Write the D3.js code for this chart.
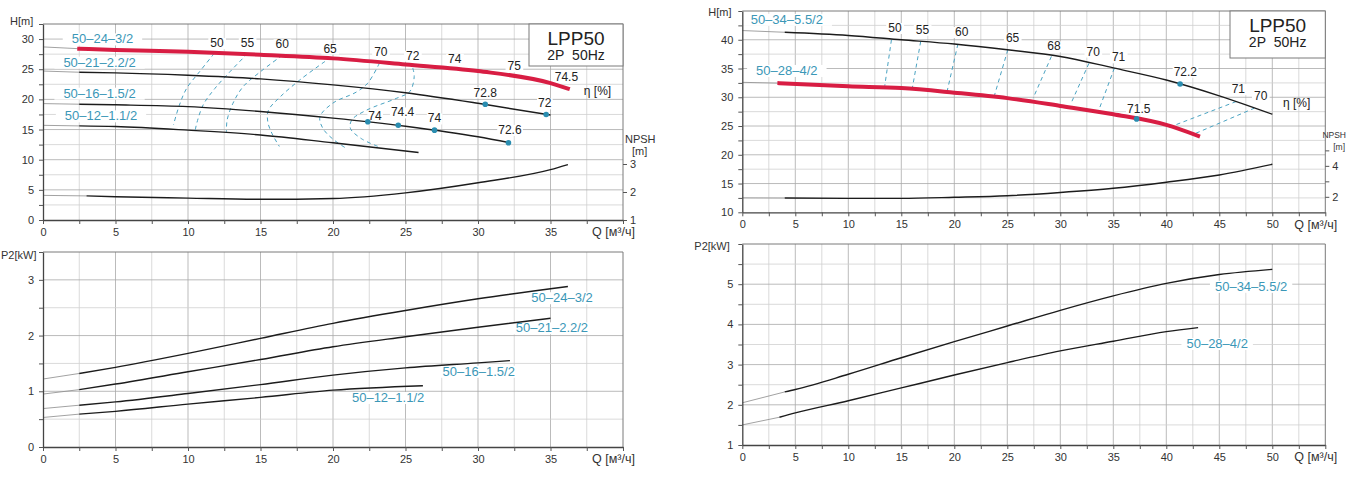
<!DOCTYPE html>
<html>
<head>
<meta charset="utf-8">
<script src="https://cdn.jsdelivr.net/npm/d3@7"></script>
<style>
    body { margin: 0; background: #fff; }
    svg { display: block; font-family: "Liberation Sans", Arial, sans-serif; }
</style>
</head>
<body>
<svg id="chart" width="1347" height="483"></svg>
<script>
// ---------- left pump family (Q m3/h) ----------
const leftModels = ['50–24–3/2', '50–21–2.2/2', '50–16–1.5/2', '50–12–1.1/2'];

// head curves H[m]
const leftHeadQ24 = [2.5, 5, 10, 15, 20, 25, 30, 35, 36.2];
const leftHead24  = [28.4, 28.2, 27.9, 27.4, 26.8, 25.8, 24.7, 22.7, 21.8];
const leftHeadQ21 = [2.5, 5, 10, 15, 20, 25, 30, 35];
const leftHead21  = [24.5, 24.4, 24.0, 23.4, 22.4, 21.1, 19.35, 17.4];
const leftHeadQ16 = [2.5, 5, 10, 15, 20, 25, 30, 32.2];
const leftHead16  = [19.2, 19.1, 18.8, 18.0, 16.9, 15.55, 13.8, 12.8];
const leftHeadQ12 = [2.5, 5, 10, 15, 20, 25.9];
const leftHead12  = [15.6, 15.5, 14.9, 14.1, 12.8, 11.2];
const leftHeadAtZero = [28.7, 24.7, 19.3, 15.7];

// NPSH [m]
const leftNpshQ = [3, 5, 10, 15, 20, 25, 30, 35, 36.2];
const leftNpsh  = [1.86, 1.83, 1.78, 1.74, 1.77, 1.97, 2.33, 2.8, 2.98];
const leftNpshAtZero = 1.88;

// power P2[kW]
const leftPowQ24 = [2.5, 5, 10, 15, 20, 25, 30, 36.2];
const leftPow24  = [1.32, 1.43, 1.68, 1.95, 2.22, 2.45, 2.66, 2.88];
const leftPowQ21 = [2.5, 5, 10, 15, 20, 25, 30, 35];
const leftPow21  = [1.03, 1.13, 1.35, 1.57, 1.80, 1.98, 2.15, 2.31];
const leftPowQ16 = [2.5, 5, 10, 15, 20, 25, 30, 32.2];
const leftPow16  = [0.75, 0.81, 0.96, 1.12, 1.29, 1.42, 1.51, 1.55];
const leftPowQ12 = [2.5, 5, 10, 15, 20, 26.2];
const leftPow12  = [0.59, 0.64, 0.77, 0.89, 1.02, 1.10];
const leftPowAtZero = [1.22, 0.95, 0.69, 0.53];

// iso-efficiency lines [Q, H]
const leftEffLines = [
    [[11.8, 27.6], [10.8, 24.6], [9.9, 21.8], [9.4, 19.0], [9.0, 15.8]],
    [[14.1, 27.6], [12.9, 24.6], [11.85, 21.8], [11.05, 19.1], [10.6, 16.0], [10.5, 14.9]],
    [[16.5, 27.3], [15.0, 24.6], [13.8, 22.1], [13.1, 19.35], [12.7, 16.6], [12.65, 14.6]],
    [[19.45, 26.3], [17.7, 23.2], [16.35, 20.4], [15.55, 18.2], [15.5, 16.3], [15.8, 14.3], [16.3, 12.2]],
    [[23.2, 26.0], [22.4, 22.7], [21.6, 21.2], [20.0, 19.4], [19.1, 17.1], [19.3, 15.2], [20.0, 13.4], [20.9, 11.9]],
    [[25.5, 25.2], [25.6, 23.8], [25.3, 21.3], [24.4, 20.2], [22.3, 18.2], [21.3, 16.6], [21.2, 15.2], [21.95, 13.5], [23.1, 12.2]]
];
const leftEffText = ['50', '55', '60', '65', '70', '72', '74', '75', '74.5'];
const leftEffTextQ = [12.0, 14.1, 16.5, 19.8, 23.3, 25.5, 28.4, 32.5, 36.1];
const leftEffTextH = [29.2, 29.2, 29.0, 28.3, 27.7, 27.1, 26.6, 25.4, 23.5];

// best-point dots and values
const leftDotQ = [30.5, 34.7, 22.4, 24.5, 27.0, 32.1];
const leftDotH = [19.2, 17.5, 16.3, 15.7, 14.9, 12.8];
const leftDotText = ['72.8', '72', '74', '74.4', '74', '72.6'];
const leftDotTextQ = [30.5, 34.6, 22.9, 24.8, 27.0, 32.2];
const leftDotTextH = [21.0, 19.2, 17.1, 17.7, 16.7, 14.8];

const leftModelHeadQ = [4.1, 3.9, 3.9, 4.0];
const leftModelHeadH = [29.85, 26.0, 20.85, 17.1];
const leftModelPowQ = [35.8, 35.1, 30.05, 23.8];
const leftModelPowP = [2.66, 2.12, 1.34, 0.87];

// ---------- right pump family ----------
const rightModels = ['50–34–5.5/2', '50–28–4/2'];

const rightHeadQ34 = [4, 10, 15, 20, 25, 30, 35, 40, 45, 50];
const rightHead34  = [41.3, 40.75, 40.0, 39.25, 38.26, 37.1, 35.1, 33.0, 30.25, 27.05];
const rightHeadQ28 = [3.5, 10, 15, 20, 25, 30, 35, 40, 43];
const rightHead28  = [32.45, 31.9, 31.6, 30.8, 29.85, 28.5, 27.05, 25.2, 23.3];
const rightHeadAtZero = [41.6, 32.6];

const rightNpshQ = [4, 10, 15, 20, 25, 30, 35, 40, 45, 50];
const rightNpsh  = [1.92, 1.9, 1.9, 1.97, 2.07, 2.28, 2.55, 2.94, 3.41, 4.1];
const rightNpshAtZero = 1.93;

const rightPowQ34 = [4, 5, 10, 15, 20, 25, 30, 35, 40, 45, 50];
const rightPow34  = [2.32, 2.38, 2.76, 3.17, 3.57, 3.96, 4.35, 4.71, 5.02, 5.24, 5.37];
const rightPowQ28 = [3.5, 5, 10, 15, 20, 25, 30, 35, 40, 43];
const rightPow28  = [1.69, 1.80, 2.1, 2.42, 2.74, 3.05, 3.34, 3.58, 3.82, 3.92];
const rightPowAtZero = [2.05, 1.5];

const rightEffLines = [
    [[14.07, 40.0], [13.44, 32.0]],
    [[16.83, 39.7], [16.04, 31.6]],
    [[20.34, 39.25], [19.34, 31.17]],
    [[25.05, 38.26], [23.8, 30.4]],
    [[29.16, 37.1], [27.44, 29.85]],
    [[32.7, 35.9], [31.05, 29.1]],
    [[35.1, 35.07], [33.7, 28.1]],
    [[40.3, 24.8], [46.58, 29.25]],
    [[42.8, 23.75], [48.3, 28.1]]
];
const rightEffText = ['50', '55', '60', '65', '68', '70', '71', '71', '70'];
const rightEffTextQ = [14.4, 17.0, 20.7, 25.5, 29.4, 33.1, 35.5, 46.8, 48.9];
const rightEffTextH = [41.9, 41.6, 41.2, 40.2, 38.7, 37.8, 36.8, 31.3, 30.0];

const rightDotQ = [41.3, 37.2];
const rightDotH = [32.3, 26.24];
const rightDotText = ['72.2', '71.5'];
const rightDotTextQ = [41.8, 37.4];
const rightDotTextH = [34.3, 27.9];

const rightModelHeadQ = [4.2, 4.2];
const rightModelHeadH = [43.36, 34.48];
const rightModelPowQ = [48.0, 44.8];
const rightModelPowP = [4.92, 3.5];

// ---------- drawing ----------
const TEAL = '#3b97b7';
const DOT = '#2a8db0';
const RED = '#d81d43';
const INK = '#1c1c1c';

const svg = d3.select('#chart');
const isMult = (v, s) => Math.abs(v / s - Math.round(v / s)) < 1e-6;
const zip = (a, b) => a.map((d, i) => [d, b[i]]);

function panel(o) {
    const x = d3.scaleLinear().domain([0, o.xMax]).range([o.x0, o.x1]);
    const y = d3.scaleLinear().domain([o.yMin, o.yMax]).range([o.y1, o.y0]);
    const g = svg.append('g');
    const layers = {
        grid: g.append('g'),
        bg: g.append('g'),
        curves: g.append('g'),
        text: g.append('g')
    };
    const xTicks = d3.range(0, Math.round(o.xMax / 2.5) + 1).map(i => i * 2.5);
    const yTicks = d3.range(0, Math.round((o.yMax - o.yMin) / o.yStep) + 1).map(i => o.yMin + i * o.yStep);

    layers.grid.selectAll('line.v').data(xTicks.slice(1, -1)).join('line')
        .attr('x1', d => x(d)).attr('x2', d => x(d))
        .attr('y1', o.y0).attr('y2', o.y1)
        .attr('stroke', d => isMult(d, 5) ? '#aaaaaa' : '#d0d0d0')
        .attr('stroke-width', 0.8);
    layers.grid.selectAll('line.h').data(yTicks.slice(1, -1)).join('line')
        .attr('x1', o.x0).attr('x2', o.x1)
        .attr('y1', d => y(d)).attr('y2', d => y(d))
        .attr('stroke', d => isMult(d, o.yLabelStep) ? '#aaaaaa' : '#d0d0d0')
        .attr('stroke-width', 0.8);

    // frame: top and right
    layers.grid.append('path')
        .attr('d', `M${o.x0},${o.y0}H${o.x1}V${o.y1}`)
        .attr('fill', 'none').attr('stroke', '#7a7a7a').attr('stroke-width', 1);

    const xAxis = g.append('g')
        .attr('transform', `translate(0,${o.y1})`)
        .call(d3.axisBottom(x).tickValues(xTicks).tickSize(4).tickSizeOuter(0).tickPadding(4)
            .tickFormat(d => (isMult(d, 5) && d < o.xMax) ? d : ''));
    const yAxis = g.append('g')
        .attr('transform', `translate(${o.x0},0)`)
        .call(d3.axisLeft(y).tickValues(yTicks).tickSize(4).tickSizeOuter(0).tickPadding(5)
            .tickFormat(d => (isMult(d, o.yLabelStep) && d < o.yMax) ? d : ''));
    [xAxis, yAxis].forEach(a => {
        a.attr('font-family', null).attr('font-size', 11);
        a.select('.domain').attr('stroke', '#444').attr('stroke-width', 1.3);
        a.selectAll('.tick line').attr('stroke', '#555');
        a.selectAll('.tick text').attr('fill', '#333');
    });

    // axis titles
    layers.text.append('text')
        .attr('x', o.x1 - 31).attr('y', o.y1 + 13)
        .attr('dominant-baseline', 'middle')
        .attr('font-size', 12.5).attr('fill', '#333')
        .text('Q [м³/ч]');
    layers.text.append('text')
        .attr('x', o.x0 - o.titleDx).attr('y', o.y0 + o.titleDy)
        .attr('dominant-baseline', 'middle')
        .attr('font-size', 11).attr('fill', '#333')
        .text(o.yTitle);

    return { x, y, layers, o };
}

function drawCurve(p, yScale, qs, vs, zeroValue, style) {
    const line = d3.line().x(d => p.x(d[0])).y(d => yScale(d[1])).curve(d3.curveMonotoneX);
    // thin extension back to Q = 0
    p.layers.curves.append('path')
        .attr('d', line([[0, zeroValue], [qs[0], vs[0]]]))
        .attr('fill', 'none').attr('stroke', '#8a8a8a').attr('stroke-width', 0.8);
    p.layers.curves.append('path')
        .attr('d', line(zip(qs, vs)))
        .attr('fill', 'none')
        .attr('stroke', style.color)
        .attr('stroke-width', style.width)
        .attr('stroke-linecap', style.width > 2 ? 'square' : 'butt');
}

function drawLabel(p, q, v, text, opts) {
    const t = p.layers.text.append('text')
        .attr('x', p.x(q)).attr('y', (opts.scale || p.y)(v))
        .attr('text-anchor', opts.anchor || 'middle')
        .attr('dominant-baseline', 'middle')
        .attr('font-size', opts.size)
        .attr('fill', opts.color)
        .text(text);
    if (opts.pad !== undefined) {
        const b = t.node().getBBox();
        p.layers.bg.append('rect')
            .attr('x', b.x - opts.pad).attr('y', b.y + 2)
            .attr('width', b.width + 2 * opts.pad).attr('height', b.height - 3)
            .attr('fill', '#fff');
    }
}

function drawEff(p, lines, smooth) {
    const line = d3.line().x(d => p.x(d[0])).y(d => p.y(d[1]));
    if (smooth) line.curve(d3.curveCatmullRom.alpha(0.5));
    p.layers.curves.selectAll(null).data(lines).join('path')
        .attr('d', line)
        .attr('fill', 'none')
        .attr('stroke', '#4aa3c2')
        .attr('stroke-width', 1)
        .attr('stroke-dasharray', '4,3.5');
}

function drawDots(p, qs, hs) {
    p.layers.text.selectAll(null).data(zip(qs, hs)).join('circle')
        .attr('cx', d => p.x(d[0])).attr('cy', d => p.y(d[1]))
        .attr('r', 2.8).attr('fill', DOT);
}

function legendBox(p, x0, y1, big, small) {
    const { o } = p;
    p.layers.text.append('rect')
        .attr('x', x0).attr('y', o.y0)
        .attr('width', o.x1 - x0).attr('height', y1 - o.y0)
        .attr('fill', '#fff').attr('stroke', '#7a7a7a');
    const cx = (x0 + o.x1) / 2;
    p.layers.text.append('text').attr('x', cx).attr('y', o.y0 + 21)
        .attr('text-anchor', 'middle').attr('font-size', 19).attr('fill', '#222').text(big);
    p.layers.text.append('text').attr('x', cx).attr('y', o.y0 + 36)
        .attr('text-anchor', 'middle').attr('font-size', 14).attr('fill', '#222').text(small);
}

function npshAxis(p, scale, ticks, labelled, ty, atEdge) {
    const { o } = p;
    const a = p.layers.text.append('g')
        .attr('transform', `translate(${o.x1},0)`)
        .call(d3.axisRight(scale).tickValues(ticks).tickSize(4).tickSizeOuter(0).tickPadding(3)
            .tickFormat(d => labelled.includes(d) ? d : ''));
    a.attr('font-family', null).attr('font-size', 11);
    a.select('.domain').remove();
    a.selectAll('.tick line').attr('stroke', '#555');
    a.selectAll('.tick text').attr('fill', '#333');
    // at the page edge the title is right-aligned and smaller so it stays on the page
    const size = atEdge ? 8.5 : 11;
    const anchor = atEdge ? 'end' : 'start';
    p.layers.text.append('text').attr('x', atEdge ? 1346 : o.x1 + 2).attr('y', ty)
        .attr('text-anchor', anchor)
        .attr('dominant-baseline', 'middle').attr('font-size', size).attr('fill', '#333').text('NPSH');
    p.layers.text.append('text').attr('x', atEdge ? 1345 : o.x1 + 9).attr('y', ty + 12)
        .attr('text-anchor', anchor)
        .attr('dominant-baseline', 'middle').attr('font-size', size).attr('fill', '#333').text('[m]');
}

// ----- left head panel -----
const lt = panel({ x0: 43, x1: 623, y0: 24, y1: 220, xMax: 40, yMin: 0, yMax: 32.5, yStep: 2.5, yLabelStep: 5,
    yTitle: 'H[m]', titleDx: 33, titleDy: -2 });
const leftNpshScale = d3.scaleLinear().domain([1, 8]).range([220, 24]);
drawEff(lt, leftEffLines, true);
drawCurve(lt, lt.y, leftHeadQ21, leftHead21, leftHeadAtZero[1], { color: INK, width: 1.4 });
drawCurve(lt, lt.y, leftHeadQ16, leftHead16, leftHeadAtZero[2], { color: INK, width: 1.4 });
drawCurve(lt, lt.y, leftHeadQ12, leftHead12, leftHeadAtZero[3], { color: INK, width: 1.4 });
drawCurve(lt, lt.y, leftHeadQ24, leftHead24, leftHeadAtZero[0], { color: RED, width: 4 });
drawCurve(lt, leftNpshScale, leftNpshQ, leftNpsh, leftNpshAtZero, { color: INK, width: 1.4 });
drawDots(lt, leftDotQ, leftDotH);
leftModels.forEach((m, i) => drawLabel(lt, leftModelHeadQ[i], leftModelHeadH[i], m, { size: 13, color: TEAL, pad: 9 }));
leftEffText.forEach((t, i) => drawLabel(lt, leftEffTextQ[i], leftEffTextH[i], t, { size: 12, color: '#222', pad: 2 }));
leftDotText.forEach((t, i) => drawLabel(lt, leftDotTextQ[i], leftDotTextH[i], t, { size: 12, color: '#222', pad: 1 }));
drawLabel(lt, 37.3, 21.3, 'η [%]', { size: 12, color: '#222', anchor: 'start' });
npshAxis(lt, leftNpshScale, [1, 2, 3], [1, 2, 3], 140, false);
legendBox(lt, 529, 66, 'LPP50', '2P\u00a0 50Hz');

// ----- left power panel -----
const lb = panel({ x0: 43, x1: 623, y0: 252, y1: 447, xMax: 40, yMin: 0, yMax: 3.5, yStep: 0.5, yLabelStep: 1,
    yTitle: 'P2[kW]', titleDx: 42, titleDy: 4 });
drawCurve(lb, lb.y, leftPowQ24, leftPow24, leftPowAtZero[0], { color: INK, width: 1.4 });
drawCurve(lb, lb.y, leftPowQ21, leftPow21, leftPowAtZero[1], { color: INK, width: 1.4 });
drawCurve(lb, lb.y, leftPowQ16, leftPow16, leftPowAtZero[2], { color: INK, width: 1.4 });
drawCurve(lb, lb.y, leftPowQ12, leftPow12, leftPowAtZero[3], { color: INK, width: 1.4 });
leftModels.forEach((m, i) => drawLabel(lb, leftModelPowQ[i], leftModelPowP[i], m, { size: 13, color: TEAL, pad: 5 }));

// ----- right head panel -----
const rt = panel({ x0: 742.3, x1: 1325.3, y0: 11, y1: 212.3, xMax: 55, yMin: 10, yMax: 45, yStep: 2.5, yLabelStep: 5,
    yTitle: 'H[m]', titleDx: 34, titleDy: 2 });
const rightNpshScale = d3.scaleLinear().domain([1, 14]).range([212.3, 11]);
drawEff(rt, rightEffLines, false);
drawCurve(rt, rt.y, rightHeadQ34, rightHead34, rightHeadAtZero[0], { color: INK, width: 1.4 });
drawCurve(rt, rt.y, rightHeadQ28, rightHead28, rightHeadAtZero[1], { color: RED, width: 4 });
drawCurve(rt, rightNpshScale, rightNpshQ, rightNpsh, rightNpshAtZero, { color: INK, width: 1.4 });
drawDots(rt, rightDotQ, rightDotH);
rightModels.forEach((m, i) => drawLabel(rt, rightModelHeadQ[i], rightModelHeadH[i], m, { size: 13, color: TEAL, pad: 9 }));
rightEffText.forEach((t, i) => drawLabel(rt, rightEffTextQ[i], rightEffTextH[i], t, { size: 12, color: '#222', pad: 2 }));
rightDotText.forEach((t, i) => drawLabel(rt, rightDotTextQ[i], rightDotTextH[i], t, { size: 12, color: '#222', pad: 1 }));
drawLabel(rt, 51.0, 28.85, 'η [%]', { size: 12, color: '#222', anchor: 'start' });
npshAxis(rt, rightNpshScale, [2, 3, 4, 5], [2, 4], 136, true);
legendBox(rt, 1230, 58, 'LPP50', '2P\u00a0 50Hz');

// ----- right power panel -----
const rb = panel({ x0: 742.3, x1: 1325.3, y0: 244, y1: 445, xMax: 55, yMin: 1, yMax: 6, yStep: 0.5, yLabelStep: 1,
    yTitle: 'P2[kW]', titleDx: 48, titleDy: 3 });
drawCurve(rb, rb.y, rightPowQ34, rightPow34, rightPowAtZero[0], { color: INK, width: 1.4 });
drawCurve(rb, rb.y, rightPowQ28, rightPow28, rightPowAtZero[1], { color: INK, width: 1.4 });
rightModels.forEach((m, i) => drawLabel(rb, rightModelPowQ[i], rightModelPowP[i], m, { size: 13, color: TEAL, pad: 5 }));
</script>
</body>
</html>
